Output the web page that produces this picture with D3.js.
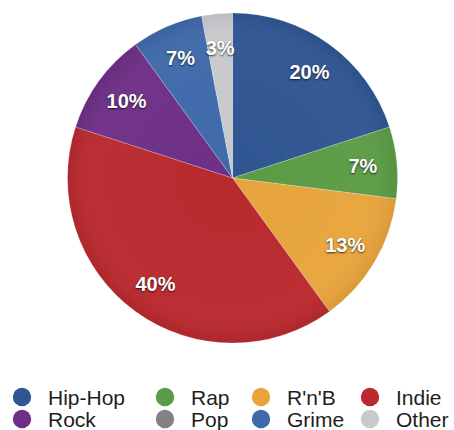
<!DOCTYPE html>
<html><head><meta charset="utf-8">
<script src="https://cdn.jsdelivr.net/npm/d3@7/dist/d3.min.js"></script>
<style>
html,body{margin:0;padding:0;background:#fff;}
svg{display:block;font-family:"Liberation Sans",Arial,Helvetica,sans-serif;}
.lbl{fill:#fff;font-weight:bold;font-size:20px;text-shadow:0 1px 2px rgba(0,0,0,0.75);}
.leg{fill:#1e1e1e;font-size:21px;}
</style></head>
<body>
<svg id="c" width="454" height="430"></svg>
<script>
const categories = ["Hip-Hop","Rap","R'n'B","Indie","Rock","Pop","Grime","Other"];
const values = [20,7,13,40,10,0,7,3];
const colors = ["#2f5592","#5b9b45","#e8a43c","#b9292e","#6e2f86","#828282","#3f69aa","#c8c9cd"];

const svg = d3.select("#c");
const cx = 232.5, cy = 178, R = 165;
const g = svg.append("g").attr("transform",`translate(${cx},${cy})`);
const data = categories.map((c,i)=>({name:c,value:values[i],color:colors[i]}));
const pie = d3.pie().value(d=>d.value).sort(null);
const arcs = pie(data);
const arc = d3.arc().innerRadius(0).outerRadius(R);
const labelArc = d3.arc().innerRadius(131).outerRadius(131);

const defs = svg.append("defs");
const grad = defs.append("radialGradient").attr("id","shade").attr("cx","50%").attr("cy","50%").attr("r","50%");
grad.append("stop").attr("offset","0%").attr("stop-color","#fff").attr("stop-opacity",0);
grad.append("stop").attr("offset","85%").attr("stop-color","#fff").attr("stop-opacity",0.03);
grad.append("stop").attr("offset","100%").attr("stop-color","#000").attr("stop-opacity",0.06);

g.selectAll("path.s").data(arcs.filter(d=>d.data.value>0)).join("path")
  .attr("class","s").attr("d",arc).attr("fill",d=>d.data.color)
  .attr("stroke","rgba(255,255,255,0.35)").attr("stroke-width",0.6);
g.append("circle").attr("r",R).attr("fill","url(#shade)");

g.selectAll("text.lbl").data(arcs.filter(d=>d.data.value>0)).join("text")
  .attr("class","lbl")
  .attr("transform",d=>`translate(${labelArc.centroid(d)})`)
  .attr("text-anchor","middle").attr("dy","0.36em")
  .text(d=>d.data.value+"%");

const colX = [22,165,261,370];
const rowY = [397,419];
const lg = svg.append("g");
data.forEach((d,i)=>{
  const col = i%4, row = Math.floor(i/4);
  lg.append("circle").attr("cx",colX[col]).attr("cy",rowY[row]).attr("r",9.2).attr("fill",d.color);
  lg.append("text").attr("class","leg").attr("x",colX[col]+26).attr("y",rowY[row]).attr("dy","0.36em").text(d.name);
});
</script>
</body></html>
